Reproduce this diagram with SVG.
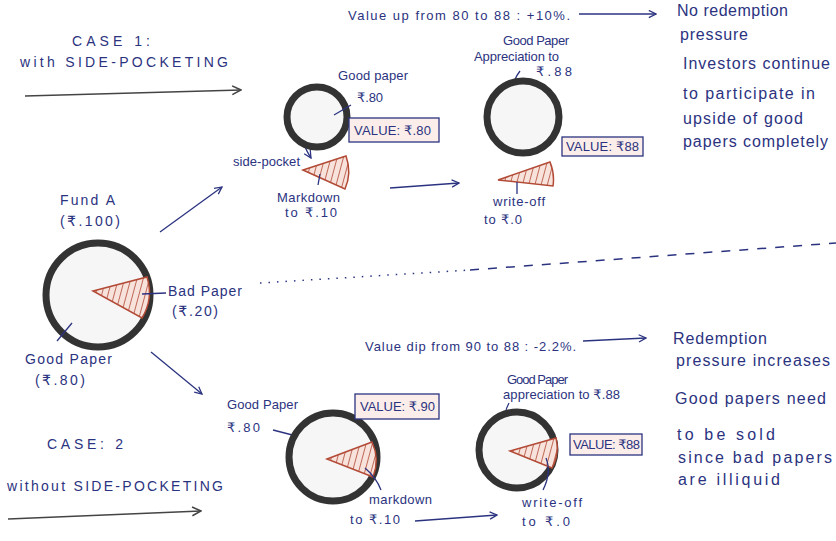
<svg xmlns="http://www.w3.org/2000/svg" width="836" height="541" viewBox="0 0 836 541">
<defs>
<style>
.t{font-family:"Liberation Sans","DejaVu Sans",sans-serif;fill:#2b3380;font-size:13px}
.cap{font-size:14px}
.n{font-size:16px}
.f{font-size:14px}
.ring{fill:#f6f6f6;stroke:#333;stroke-width:7}
.wedge{fill:url(#hatch);stroke:#b24a36;stroke-width:1.5}
.line{fill:none;stroke:#2b3380;stroke-width:1.3}
.box{fill:#fbeeea;stroke:#2b3380;stroke-width:1.3}
.dark{fill:none;stroke:#444;stroke-width:1.6}
</style>
<pattern id="hatch" width="6" height="6" patternUnits="userSpaceOnUse" patternTransform="rotate(15)">
<rect width="6" height="6" fill="#f7e3dc"/>
<line x1="0" y1="0" x2="0" y2="6" stroke="#b24a36" stroke-width="1.6"/>
</pattern>
<marker id="ah" viewBox="0 0 10 10" refX="9" refY="5" markerWidth="9" markerHeight="9" orient="auto" markerUnits="userSpaceOnUse">
<path d="M1,1 L9,5 L1,9" fill="none" stroke="#2b3380" stroke-width="1.4"/>
</marker>
<marker id="ahd" viewBox="0 0 10 10" refX="9" refY="5" markerWidth="11" markerHeight="11" orient="auto" markerUnits="userSpaceOnUse">
<path d="M1,1 L9,5 L1,9" fill="none" stroke="#444" stroke-width="1.4"/>
</marker>
</defs>
<rect width="836" height="541" fill="#ffffff"/>

<g id="connectors">
<line class="dark" x1="25" y1="96" x2="241" y2="90" marker-end="url(#ahd)"/>
<line class="dark" x1="8" y1="519" x2="201" y2="511" marker-end="url(#ahd)"/>
<line class="line" x1="160" y1="232" x2="222" y2="187" marker-end="url(#ah)"/>
<line class="line" x1="151" y1="352" x2="202" y2="394" marker-end="url(#ah)"/>
<line class="line" x1="390" y1="188" x2="459" y2="183" marker-end="url(#ah)"/>
<line class="line" x1="415" y1="521" x2="497" y2="515" marker-end="url(#ah)"/>
<line class="line" x1="579" y1="14" x2="656" y2="14" stroke-width="1.8" marker-end="url(#ah)"/>
<line class="line" x1="583" y1="341" x2="646" y2="338" stroke-width="1.8" marker-end="url(#ah)"/>
<path class="line" d="M306,132 C301,142 306,150 311,158" marker-end="url(#ah)"/>
<path d="M260,283 L470,270" fill="none" stroke="#2b3380" stroke-width="1.5" stroke-dasharray="1.5,7"/>
<path d="M470,270 L836,243" fill="none" stroke="#2b3380" stroke-width="1.5" stroke-dasharray="9,9"/>
</g>

<g id="case1-title">
<text class="t cap" x="72" y="46" textLength="78">CASE 1:</text>
<text class="t cap" x="20" y="67" textLength="208">with  SIDE-POCKETING</text>
</g>

<g id="fund-a">
<text class="t f" x="60" y="205" textLength="55">Fund A</text>
<text class="t f" x="60" y="226" textLength="60">(₹.100)</text>
<circle class="ring" cx="98" cy="295" r="52" stroke-width="8"/>
<path class="wedge" d="M93,291 L147,277 A50,50 0 0 1 142,318 Z"/>
<line class="line" x1="142" y1="294" x2="166" y2="293"/>
<text class="t f" x="168" y="296" textLength="74">Bad Paper</text>
<text class="t f" x="172" y="316" textLength="46">(₹.20)</text>
<line class="line" x1="57" y1="341" x2="72" y2="323"/>
<text class="t f" x="25" y="364" textLength="87">Good Paper</text>
<text class="t f" x="35" y="385" textLength="50">(₹.80)</text>
</g>

<g id="c1-good-80">
<circle class="ring" cx="317" cy="117" r="30"/>
<line class="line" x1="334" y1="115" x2="351" y2="105"/>
<text class="t" x="338" y="80" textLength="70">Good paper</text>
<text class="t" x="357" y="102" textLength="26">₹.80</text>
<rect class="box" x="349" y="118" width="90" height="24"/>
<text class="t" x="354" y="135" textLength="77">VALUE: ₹.80</text>
</g>

<g id="c1-side-pocket">
<text class="t" x="233" y="166" textLength="67">side-pocket</text>
<path class="wedge" d="M303,170 L346,156 A45,45 0 0 1 345,189 Z"/>
<line class="line" x1="320" y1="174" x2="318" y2="185"/>
<text class="t" x="277" y="202" textLength="63">Markdown</text>
<text class="t" x="285" y="217" textLength="52">to ₹.10</text>
</g>

<g id="c1-good-88">
<text class="t" x="503" y="45" textLength="66">Good Paper</text>
<text class="t" x="474" y="61" textLength="85">Appreciation to</text>
<text class="t" x="536" y="76" textLength="36">₹.88</text>
<path class="line" d="M520,71 C513,80 511,90 516,100"/>
<circle class="ring" cx="523" cy="117" r="36"/>
<rect class="box" x="562" y="137" width="81" height="19" fill="#fff"/>
<text class="t" x="566" y="151" textLength="73">VALUE: ₹88</text>
</g>

<g id="c1-write-off">
<path class="wedge" d="M498,180 L550,162 A45,45 0 0 1 553,186 Z"/>
<line class="line" x1="517" y1="182" x2="517" y2="194"/>
<text class="t" x="493" y="206" textLength="52">write-off</text>
<text class="t" x="484" y="224" textLength="38">to ₹.0</text>
</g>

<g id="c1-note">
<text class="t" x="348" y="20" font-size="14" textLength="222">Value up from 80 to 88 : +10%.</text>
<text class="t n" x="677" y="16" textLength="111">No redemption</text>
<text class="t n" x="680" y="40" textLength="68">pressure</text>
<text class="t n" x="683" y="69" textLength="147">Investors continue</text>
<text class="t n" x="683" y="99" textLength="132">to participate in</text>
<text class="t n" x="683" y="124" textLength="120">upside of good</text>
<text class="t n" x="683" y="147" textLength="145">papers completely</text>
</g>

<g id="case2-title">
<text class="t cap" x="47" y="449" textLength="76">CASE: 2</text>
<text class="t cap" x="7" y="491" textLength="216">without  SIDE-POCKETING</text>
</g>

<g id="c2-good-80">
<text class="t" x="227" y="409" textLength="71">Good Paper</text>
<text class="t" x="227" y="432" textLength="33">₹.80</text>
<line class="line" x1="273" y1="430" x2="304" y2="438"/>
<circle class="ring" cx="333" cy="457" r="44"/>
<path class="wedge" d="M327,459 L372,442 A44,44 0 0 1 373,477 Z"/>
<rect class="box" x="355" y="394" width="84" height="25"/>
<text class="t" x="360" y="411" textLength="75">VALUE: ₹.90</text>
<path class="line" d="M365,468 C372,474 378,482 381,490"/>
<text class="t" x="369" y="504" textLength="63">markdown</text>
<text class="t" x="350" y="524" textLength="50">to ₹.10</text>
</g>

<g id="c2-good-88">
<text class="t" x="507" y="384" font-size="12" textLength="61">Good Paper</text>
<text class="t" x="503" y="399" font-size="12" textLength="117">appreciation to ₹.88</text>
<path class="line" d="M509,403 C505,410 504,417 507,424"/>
<circle class="ring" cx="517" cy="450" r="38"/>
<path class="wedge" d="M510,451 L556,438 A42,42 0 0 1 552,468 Z"/>
<rect class="box" x="570" y="434" width="72" height="21" fill="#fff"/>
<text class="t" x="573" y="449" font-size="12" textLength="67">VALUE: ₹88</text>
<path class="line" d="M546,458 C550,468 548,480 543,490"/>
<text class="t" x="522" y="507" textLength="60">write-off</text>
<text class="t" x="522" y="526" textLength="48">to ₹.0</text>
</g>

<g id="c2-note">
<text class="t" x="365" y="351" font-size="14" textLength="211">Value dip from 90 to 88 : -2.2%.</text>
<text class="t n" x="673" y="344" textLength="94">Redemption</text>
<text class="t n" x="676" y="366" textLength="154">pressure increases</text>
<text class="t n" x="675" y="404" textLength="151">Good papers need</text>
<text class="t n" x="677" y="440" textLength="98">to be sold</text>
<text class="t n" x="678" y="463" textLength="154">since bad papers</text>
<text class="t n" x="678" y="485" textLength="102">are illiquid</text>
</g>
</svg>
